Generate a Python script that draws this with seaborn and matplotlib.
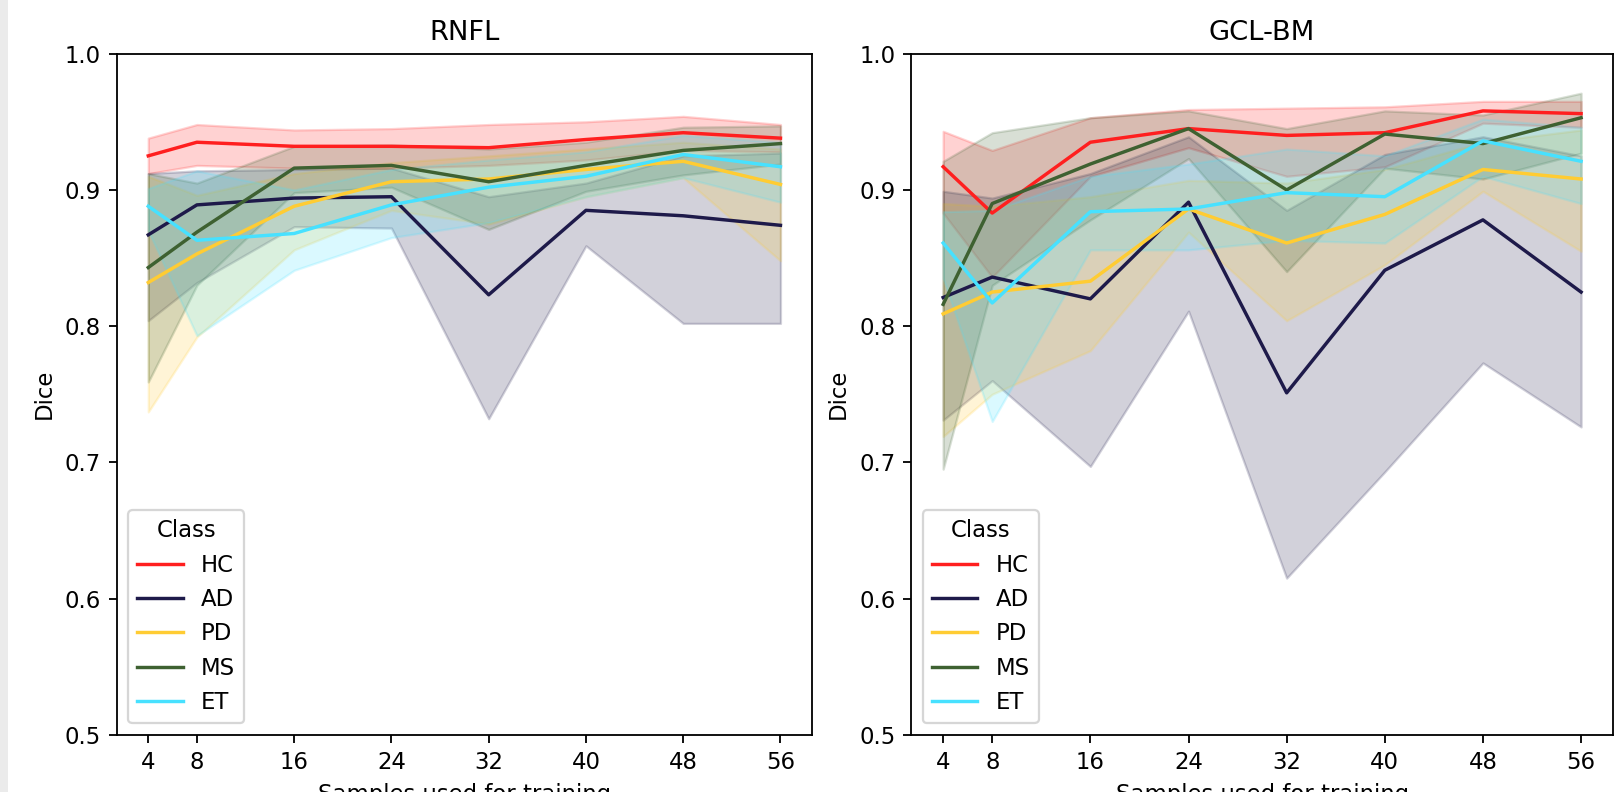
import numpy as np
import pandas as pd
import matplotlib
matplotlib.use("Agg")
import matplotlib.pyplot as plt
from matplotlib.patches import Rectangle
import seaborn as sns

samples = [4, 8, 16, 24, 32, 40, 48, 56]
classes = ["HC", "AD", "PD", "MS", "ET"]
palette = {"HC": "#ff1f1f", "AD": "#1e1a4a", "PD": "#ffcc33",
           "MS": "#3e6131", "ET": "#47e1ff"}

# RNFL: mean Dice with lower / upper band per class
rnfl_mean = {
    "HC": [.925, .935, .932, .932, .931, .937, .942, .938],
    "AD": [.867, .889, .894, .895, .823, .885, .881, .874],
    "PD": [.832, .853, .888, .906, .908, .915, .921, .904],
    "MS": [.843, .869, .916, .918, .906, .918, .929, .934],
    "ET": [.888, .863, .868, .889, .902, .910, .926, .917],
}
rnfl_low = {
    "HC": [.912, .918, .916, .916, .918, .922, .929, .928],
    "AD": [.804, .832, .873, .872, .732, .859, .802, .802],
    "PD": [.737, .792, .856, .885, .875, .895, .909, .848],
    "MS": [.759, .830, .898, .902, .871, .899, .911, .919],
    "ET": [.870, .793, .841, .865, .876, .895, .909, .891],
}
rnfl_high = {
    "HC": [.938, .948, .944, .945, .948, .950, .954, .948],
    "AD": [.912, .914, .915, .916, .895, .905, .925, .927],
    "PD": [.910, .896, .912, .920, .925, .930, .935, .930],
    "MS": [.912, .905, .932, .933, .930, .935, .946, .947],
    "ET": [.901, .914, .900, .915, .922, .928, .940, .935],
}

# GCL-BM: mean Dice with lower / upper band per class
gcl_mean = {
    "HC": [.917, .883, .935, .945, .940, .942, .958, .956],
    "AD": [.821, .836, .820, .891, .751, .841, .878, .825],
    "PD": [.809, .825, .833, .886, .861, .882, .915, .908],
    "MS": [.816, .890, .919, .945, .900, .941, .934, .953],
    "ET": [.861, .817, .884, .886, .898, .895, .936, .921],
}
gcl_low = {
    "HC": [.883, .836, .910, .931, .910, .917, .949, .946],
    "AD": [.731, .760, .697, .811, .615, .693, .773, .726],
    "PD": [.719, .750, .782, .869, .804, .845, .899, .855],
    "MS": [.695, .830, .878, .923, .840, .916, .908, .927],
    "ET": [.835, .730, .856, .856, .863, .861, .910, .890],
}
gcl_high = {
    "HC": [.943, .929, .953, .959, .960, .961, .965, .965],
    "AD": [.899, .894, .912, .939, .885, .926, .939, .925],
    "PD": [.890, .888, .895, .907, .905, .915, .935, .944],
    "MS": [.921, .942, .953, .958, .945, .958, .955, .971],
    "ET": [.884, .885, .910, .919, .930, .925, .952, .946],
}


def long_form(mean, low, high):
    rows = []
    for c in classes:
        for i, s in enumerate(samples):
            for v in (low[c][i], mean[c][i], high[c][i]):
                rows.append({"Samples": s, "Dice": v, "Class": c})
    return pd.DataFrame(rows)


def band(values):
    return values.min(), values.max()


DPI = 164
plt.rcParams["font.family"] = ["DejaVu Sans"]
fig = plt.figure(figsize=(1618 / DPI, 792 / DPI), dpi=DPI)
fig.patches.append(Rectangle((0, 0), 8 / 1618, 1, transform=fig.transFigure,
                             facecolor="#ebebeb", edgecolor="none", zorder=-1))

ax1 = fig.add_axes([0.0721, 0.0723, 0.4298, 0.8599])
ax2 = fig.add_axes([0.5632, 0.0723, 0.4337, 0.8599])

panels = [(ax1, "RNFL", rnfl_mean, rnfl_low, rnfl_high),
          (ax2, "GCL-BM", gcl_mean, gcl_low, gcl_high)]

for ax, title, m, lo, hi in panels:
    df = long_form(m, lo, hi)
    sns.lineplot(data=df, x="Samples", y="Dice", hue="Class",
                 hue_order=classes, palette=palette,
                 estimator="median", errorbar=band, ax=ax)
    ax.set_title(title)
    ax.set_ylim(0.5, 1.0)
    ax.set_xticks(samples)
    ax.set_xlabel("Samples used for training")
    ax.set_ylabel("Dice")
    sns.move_legend(ax, "lower left", title="Class")

fig.savefig("out.png", dpi=DPI)
